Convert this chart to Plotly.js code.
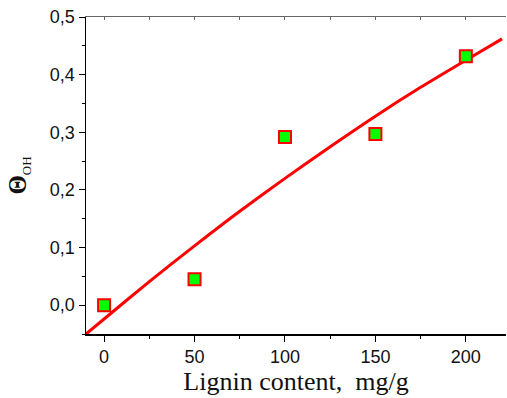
<!DOCTYPE html>
<html>
<head>
<meta charset="utf-8">
<script src="https://cdn.plot.ly/plotly-3.0.1.min.js"></script>
<style>html,body{margin:0;padding:0;background:#fff;}#chart{width:507px;height:398px;}</style>
</head>
<body>
<div id="chart"></div>
<script>
// Measured data
const lignin = [0, 50, 100, 150, 200];
const theta = [0.000, 0.045, 0.292, 0.297, 0.432];
// Fitted curve
const fitX = [-10, 0, 25, 50, 75, 100, 125, 150, 175, 200, 220];
const fitY = [-0.050, -0.024, 0.041, 0.103, 0.163, 0.220, 0.275, 0.328, 0.378, 0.425, 0.462];
const xTicks = [0, 50, 100, 150, 200];
const yTicks = [0.0, 0.1, 0.2, 0.3, 0.4, 0.5];

const tickFont = {family: 'Liberation Sans, Arial, sans-serif', size: 18, color: '#111'};

const data = [
  {x: fitX, y: fitY, mode: 'lines', line: {color: '#ff0000', width: 3, shape: 'spline', smoothing: 0.6}, hoverinfo: 'skip', showlegend: false},
  {x: lignin, y: theta, mode: 'markers', marker: {symbol: 'square', size: 12, color: '#00ff00', line: {color: '#ff0000', width: 2}}, showlegend: false},
  {x: lignin, y: theta, xaxis: 'x2', mode: 'markers', marker: {opacity: 0}, hoverinfo: 'skip', showlegend: false}
];

const layout = {
  width: 507, height: 398,
  margin: {l: 86, r: 1, t: 17, b: 64},
  paper_bgcolor: '#fff', plot_bgcolor: '#fff',
  separators: ', ',
  showlegend: false,
  xaxis: {
    range: [-10, 222.2], showgrid: false, zeroline: false,
    showline: true, linecolor: '#000', linewidth: 1.5,
    ticks: 'outside', ticklen: 6, tickwidth: 1, tickcolor: '#000',
    tickvals: xTicks, ticktext: xTicks.map(String),
    minor: {tickvals: [25, 75, 125, 175], ticks: 'outside', ticklen: 3, tickcolor: '#000'},
    tickfont: tickFont,
    title: {text: 'Lignin content,\u00a0 mg/g', font: {family: 'Liberation Serif, Times New Roman, serif', size: 26, color: '#111'}, standoff: 5}
  },
  xaxis2: {
    overlaying: 'x', side: 'top', anchor: 'y', matches: 'x',
    range: [-10, 222.2], showgrid: false, zeroline: false,
    showline: true, linecolor: '#666', linewidth: 1.5,
    ticks: 'inside', ticklen: 3, tickcolor: '#666',
    tickvals: xTicks, showticklabels: false,
    minor: {tickvals: [25, 75, 125, 175], ticks: 'inside', ticklen: 3, tickcolor: '#666'}
  },
  yaxis: {
    range: [-0.05, 0.5], showgrid: false, zeroline: false,
    showline: true, linecolor: '#000', linewidth: 1.5,
    ticks: 'outside', ticklen: 6, tickwidth: 1, tickcolor: '#000',
    tickvals: yTicks, tickformat: '.1f',
    minor: {tickvals: [-0.05, 0.05, 0.15, 0.25, 0.35, 0.45], ticks: 'outside', ticklen: 3, tickcolor: '#000'},
    tickfont: tickFont,
    title: {text: '<b>Θ</b><sub><span style="font-size:13px">OH</span></sub>', font: {family: 'Liberation Serif, Times New Roman, serif', size: 25, color: '#111'}, standoff: 16}
  }
};

Plotly.newPlot('chart', data, layout, {staticPlot: true, displayModeBar: false});
</script>
</body>
</html>
